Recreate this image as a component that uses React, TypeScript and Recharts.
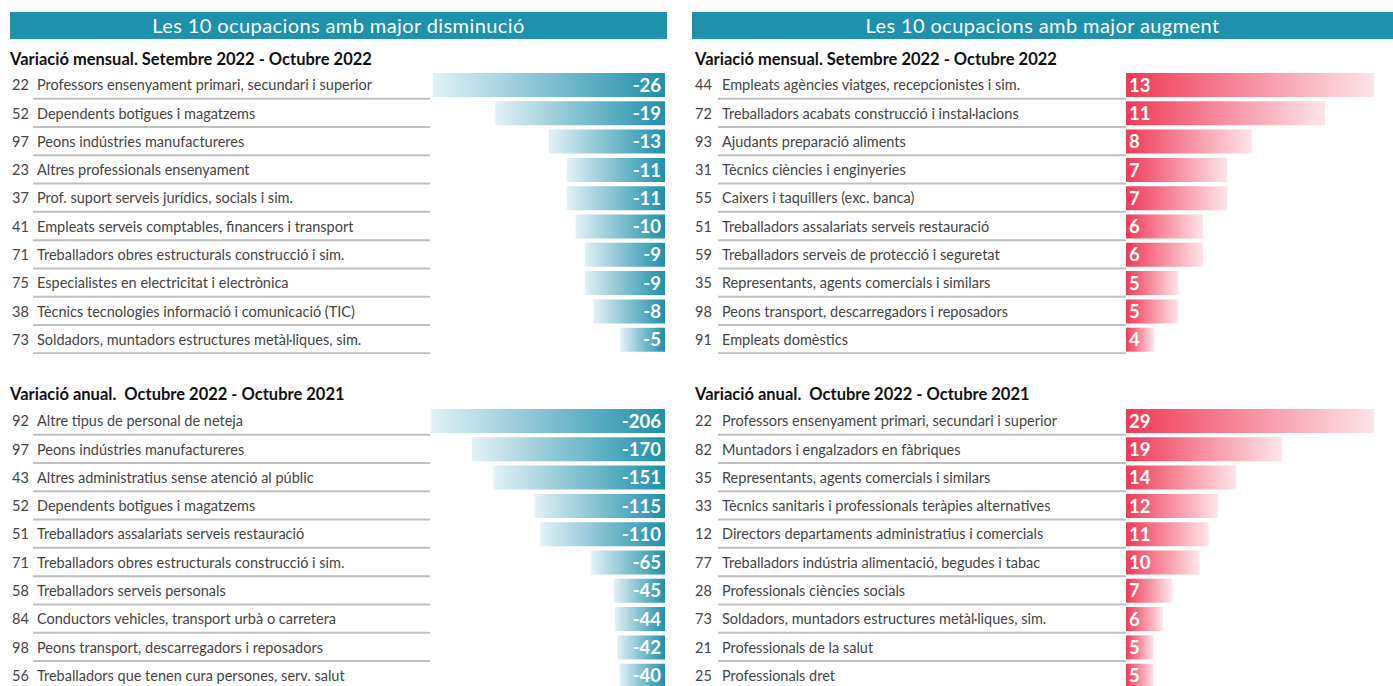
import { BarChart, Bar, XAxis, YAxis } from 'recharts'

// Monthly variation, Sept 2022 - Oct 2022 (largest decreases)
const monthlyDownCodes = ['22', '52', '97', '23', '37', '41', '71', '75', '38', '73']
const monthlyDownLabels = [
  'Professors ensenyament primari, secundari i superior',
  'Dependents botigues i magatzems',
  'Peons indústries manufactureres',
  'Altres professionals ensenyament',
  'Prof. suport serveis jurídics, socials i sim.',
  'Empleats serveis comptables, financers i transport',
  'Treballadors obres estructurals construcció i sim.',
  'Especialistes en electricitat i electrònica',
  'Tècnics tecnologies informació i comunicació (TIC)',
  'Soldadors, muntadors estructures metàl·liques, sim.',
]
const monthlyDownValues = [-26, -19, -13, -11, -11, -10, -9, -9, -8, -5]

// Monthly variation (largest increases)
const monthlyUpCodes = ['44', '72', '93', '31', '55', '51', '59', '35', '98', '91']
const monthlyUpLabels = [
  'Empleats agències viatges, recepcionistes i sim.',
  'Treballadors acabats construcció i instal·lacions',
  'Ajudants preparació aliments',
  'Tècnics ciències i enginyeries',
  'Caixers i taquillers (exc. banca)',
  'Treballadors assalariats serveis restauració',
  'Treballadors serveis de protecció i seguretat',
  'Representants, agents comercials i similars',
  'Peons transport, descarregadors i reposadors',
  'Empleats domèstics',
]
const monthlyUpValues = [13, 11, 8, 7, 7, 6, 6, 5, 5, 4]

// Annual variation, Oct 2022 - Oct 2021 (largest decreases)
const annualDownCodes = ['92', '97', '43', '52', '51', '71', '58', '84', '98', '56']
const annualDownLabels = [
  'Altre tipus de personal de neteja',
  'Peons indústries manufactureres',
  'Altres administratius sense atenció al públic',
  'Dependents botigues i magatzems',
  'Treballadors assalariats serveis restauració',
  'Treballadors obres estructurals construcció i sim.',
  'Treballadors serveis personals',
  'Conductors vehicles, transport urbà o carretera',
  'Peons transport, descarregadors i reposadors',
  'Treballadors que tenen cura persones, serv. salut',
]
const annualDownValues = [-206, -170, -151, -115, -110, -65, -45, -44, -42, -40]

// Annual variation (largest increases)
const annualUpCodes = ['22', '82', '35', '33', '12', '77', '28', '73', '21', '25']
const annualUpLabels = [
  'Professors ensenyament primari, secundari i superior',
  'Muntadors i engalzadors en fàbriques',
  'Representants, agents comercials i similars',
  'Tècnics sanitaris i professionals teràpies alternatives',
  'Directors departaments administratius i comercials',
  'Treballadors indústria alimentació, begudes i tabac',
  'Professionals ciències socials',
  'Soldadors, muntadors estructures metàl·liques, sim.',
  'Professionals de la salut',
  'Professionals dret',
]
const annualUpValues = [29, 19, 14, 12, 11, 10, 7, 6, 5, 5]

const FONT = 'Lato, "Open Sans", sans-serif'
const TEAL = '#1e91ac'
const TEXT = '#444444'
const ROW_H = 28.3

interface PanelProps {
  codes: string[]
  labels: string[]
  values: number[]
  side: 'down' | 'up'
  left: number
  top: number
  domain: [number, number]
}

function Panel({ codes, labels, values, side, left, top, domain }: PanelProps) {
  const data = labels.map((name, i) => ({ name, code: codes[i], value: values[i] }))
  const isDown = side === 'down'
  const width = isDown ? 680 : 708
  const axisW = isDown ? 430 : 441
  const rightMargin = isDown ? 15 : 19
  const codeX = isDown ? 12 : 10
  const gradId = `grad-${side}-${top}`

  const renderTick = (props: any) => {
    const { y, payload } = props
    const code = codes[payload.index] ?? ''
    return (
      <g>
        <text x={codeX} y={y} dy="0.35em" fontSize={14.5} fill={TEXT} fontFamily={FONT}>
          {code}
        </text>
        <text x={37} y={y} dy="0.35em" fontSize={14.5} fill={TEXT} fontFamily={FONT}>
          {payload.value}
        </text>
        <line x1={33} x2={axisW} y1={y + 13.5} y2={y + 13.5} stroke="#bfbfbf" strokeWidth={2} />
      </g>
    )
  }

  const renderValue = (props: any) => {
    const { x, y, width: w, height: h, value } = props
    const lo = Math.min(x, x + w)
    const hi = Math.max(x, x + w)
    return (
      <text
        x={isDown ? hi - 4 : lo + 3}
        y={y + h / 2}
        dy="0.36em"
        textAnchor={isDown ? 'end' : 'start'}
        fontSize={18.5}
        fontWeight={700}
        fill="#ffffff"
        fontFamily={FONT}
      >
        {value}
      </text>
    )
  }

  return (
    <div style={{ position: 'absolute', left, top }}>
      <BarChart
        width={width}
        height={ROW_H * 10}
        data={data}
        layout="vertical"
        margin={{ top: 0, right: rightMargin, bottom: 0, left: 0 }}
      >
        <defs>
          <linearGradient id={gradId} x1="0" y1="0" x2="1" y2="0">
            {isDown ? (
              <>
                <stop offset="0%" stopColor="#e2f1f5" />
                <stop offset="100%" stopColor="#1f8faa" />
              </>
            ) : (
              <>
                <stop offset="0%" stopColor="#f03a56" />
                <stop offset="100%" stopColor="#fde5ea" />
              </>
            )}
          </linearGradient>
        </defs>
        <XAxis type="number" hide domain={domain} allowDataOverflow />
        <YAxis
          type="category"
          dataKey="name"
          width={axisW}
          axisLine={false}
          tickLine={false}
          interval={0}
          tick={renderTick}
        />
        <Bar
          dataKey="value"
          barSize={24}
          fill={`url(#${gradId})`}
          isAnimationActive={false}
          label={renderValue}
        />
      </BarChart>
    </div>
  )
}

function Header({ left, width, text }: { left: number; width: number; text: string }) {
  return (
    <div
      style={{
        position: 'absolute',
        left,
        top: 12,
        width,
        height: 27,
        background: TEAL,
        color: '#fff',
        fontFamily: FONT,
        fontSize: 20,
        lineHeight: '27px',
        textAlign: 'center',
        letterSpacing: 0.4,
      }}
    >
      {text}
    </div>
  )
}

function Subtitle({ left, top, text }: { left: number; top: number; text: string }) {
  return (
    <div
      style={{
        position: 'absolute',
        left,
        top,
        fontFamily: FONT,
        fontSize: 16.5,
        fontWeight: 700,
        color: '#111',
        whiteSpace: 'pre',
        lineHeight: '20px',
      }}
    >
      {text}
    </div>
  )
}

export default function App() {
  return (
    <div
      style={{
        position: 'absolute',
        left: 0,
        top: 0,
        width: 1393,
        height: 686,
        overflow: 'hidden',
        background: '#fff',
      }}
    >
      <Header left={10} width={657} text="Les 10 ocupacions amb major disminució" />
      <Header left={692} width={701} text="Les 10 ocupacions amb major augment" />

      <Subtitle left={10} top={49} text="Variació mensual. Setembre 2022 - Octubre 2022" />
      <Subtitle left={695} top={49} text="Variació mensual. Setembre 2022 - Octubre 2022" />
      <Subtitle left={10} top={384} text="Variació anual.  Octubre 2022 - Octubre 2021" />
      <Subtitle left={695} top={384} text="Variació anual.  Octubre 2022 - Octubre 2021" />

      <Panel
        codes={monthlyDownCodes}
        labels={monthlyDownLabels}
        values={monthlyDownValues}
        side="down"
        left={0}
        top={71}
        domain={[-26.3, 0]}
      />
      <Panel
        codes={monthlyUpCodes}
        labels={monthlyUpLabels}
        values={monthlyUpValues}
        side="up"
        left={685}
        top={71}
        domain={[2.85, 13]}
      />
      <Panel
        codes={annualDownCodes}
        labels={annualDownLabels}
        values={annualDownValues}
        side="down"
        left={0}
        top={407}
        domain={[-207, 0]}
      />
      <Panel
        codes={annualUpCodes}
        labels={annualUpLabels}
        values={annualUpValues}
        side="up"
        left={685}
        top={407}
        domain={[2, 29]}
      />
    </div>
  )
}
